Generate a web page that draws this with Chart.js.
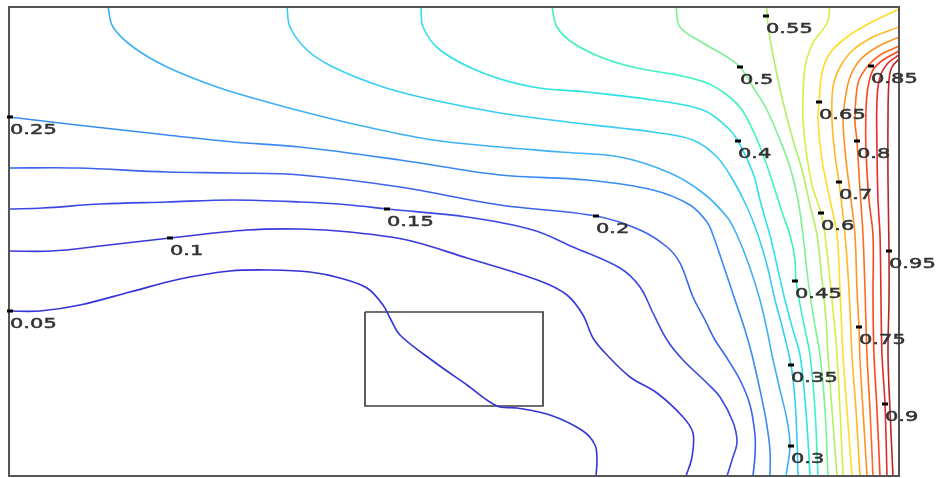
<!DOCTYPE html>
<html><head><meta charset="utf-8">
<script src="https://cdn.jsdelivr.net/npm/chart.js@4/dist/chart.umd.min.js"></script>
<style>html,body{margin:0;padding:0;background:#fff}#wrap{width:939px;height:478px}</style>
</head><body><div id="wrap"><canvas id="c" width="939" height="478"></canvas></div>
<script>
// contour levels and their colours
const levels = [0.05,0.1,0.15,0.2,0.25,0.3,0.35,0.4,0.45,0.5,0.55,0.6,0.65,0.7,0.75,0.8,0.85,0.9,0.95];
const levelColors = ['#3434d6','#3838dc','#3a48e4','#3c62ee','#3a8af4','#3eb0f6','#36cef4','#2ee2e6','#3ef2c4','#7cf292','#aef262','#d6f03e','#ffdc28','#ffb820','#ff9420','#ff6a20','#ff4420','#e62a2a','#b82626'];

// contour paths [x, depth]
const c05 = [[0,30.4],[3.1,30.4],[7.1,29.8],[12.1,28.5],[17.1,27.2],[22.1,26.4],[26.1,26.3],[30.1,26.5],[33.1,27.1],[35.8,28.1],[37.4,29.8],[38.1,31.1],[39.1,32.8],[42.4,35.4],[45.8,37.8],[48.8,39.9],[50.8,40.1],[54.1,40.8],[57.4,42.4],[58.6,43.8],[58.8,45.3],[58.7,46.9]];
const c10 = [[0,24.4],[4.3,24.4],[9.1,23.9],[16.1,23.1],[23.8,22.3],[29.1,22.2],[34.1,22.5],[39.8,23.3],[45.8,25.1],[53.1,27.4],[55.8,28.8],[57.4,30.8],[58.4,33.1],[59.8,34.8],[62.1,37.0],[64.8,38.6],[67.4,41.0],[68.4,42.6],[68.3,45.0],[67.7,46.9]];
const c15 = [[0,20.2],[3.4,20.1],[9.1,19.7],[15.8,19.5],[22.4,19.3],[29.1,19.5],[34.1,19.8],[37.8,20.2],[45.8,21.0],[52.4,22.3],[56.4,24.0],[61.1,26.1],[63.1,28.0],[64.4,30.6],[65.8,33.3],[67.4,35.3],[69.8,37.6],[71.1,39.0],[72.4,41.5],[72.8,43.5],[72.4,45.0],[71.8,46.9]];
const c20 = [[0,16.1],[6.8,16.1],[15.8,16.5],[22.4,16.6],[29.1,16.8],[39.1,18.0],[49.1,19.8],[58.7,20.9],[63.1,22.3],[65.8,24.0],[67.1,25.6],[68.4,29.0],[69.6,31.3],[70.6,33.3],[71.6,34.8],[73.1,37.3],[74.1,39.8],[74.6,42.8],[74.6,44.8],[74.4,46.9]];
const c25 = [[0,11.0],[6.8,11.8],[15.8,12.8],[22.4,13.5],[29.1,14.0],[39.1,15.3],[49.1,16.8],[57.8,17.3],[64.4,18.3],[68.1,19.8],[69.8,21.5],[70.4,22.8],[71.6,26.3],[72.6,29.3],[73.6,32.3],[74.3,34.8],[75.1,38.3],[75.7,41.3],[76.1,44.3],[76.1,46.9]];
const c30 = [[9.9,0],[10.4,2.0],[12.4,4.0],[15.8,6.0],[20.8,8.0],[25.8,9.5],[31.1,10.9],[35.8,12.0],[42.4,13.3],[49.1,14.0],[55.1,14.5],[61.1,15.0],[66.1,16.6],[69.4,18.6],[71.8,21.0],[72.8,22.8],[74.1,26.1],[75.1,29.3],[75.8,32.3],[76.3,34.8],[77.1,38.3],[77.8,41.3],[78.1,43.9],[77.7,46.9]];
const c35 = [[27.8,0],[28.1,2.0],[29.8,4.3],[32.4,6.0],[37.4,8.0],[42.4,9.3],[49.1,10.6],[55.8,11.5],[61.1,12.1],[64.4,12.5],[68.4,13.3],[70.8,15.0],[72.4,17.3],[73.8,20.0],[74.9,22.8],[75.8,25.8],[76.6,29.3],[77.4,32.3],[78.2,35.8],[78.6,39.3],[78.8,43.3],[78.9,46.9]];
const c40 = [[41.2,0],[41.4,2.0],[43.1,4.3],[47.4,6.6],[52.4,8.0],[57.8,8.5],[64.4,9.3],[69.4,10.3],[71.8,12.0],[72.9,13.4],[74.4,16.6],[75.1,19.3],[75.8,21.8],[76.1,22.8],[76.9,26.3],[77.6,29.3],[78.4,32.3],[79.1,34.8],[79.6,39.3],[79.9,43.3],[80.1,46.9]];
const c45 = [[54.3,0],[54.8,2.0],[56.4,3.6],[59.4,5.1],[62.8,6.1],[66.8,6.8],[69.8,7.6],[71.8,8.8],[73.3,10.3],[74.6,12.8],[75.6,15.3],[76.6,18.3],[77.4,20.8],[78.1,22.8],[78.6,25.3],[78.7,27.4],[79.4,31.3],[80.1,34.8],[80.6,40.3],[80.9,46.9]];
const c50 = [[66.7,0],[67.1,2.0],[69.4,3.6],[71.8,5.0],[73.1,6.0],[74.4,8.0],[75.8,10.3],[77.1,13.3],[78.1,16.0],[78.9,19.3],[79.4,22.8],[79.9,27.3],[80.5,31.3],[81.1,34.8],[81.6,40.3],[81.9,46.9]];
const c55 = [[75.8,0],[75.9,1.8],[76.3,4.3],[76.9,7.3],[77.6,10.3],[78.4,13.3],[79.3,16.3],[80.1,19.8],[80.8,22.8],[81.3,27.3],[81.7,31.3],[81.9,34.8],[82.3,40.3],[82.8,46.9]];
const c60 = [[82.1,0],[81.8,1.6],[80.4,3.6],[79.6,6.0],[79.4,9.3],[79.4,11.3],[79.7,14.3],[80.3,17.8],[81.2,20.6],[81.6,22.8],[82.1,27.3],[82.5,31.3],[82.8,34.8],[83.1,40.3],[83.4,46.9]];
const c65 = [[89.0,0.2],[86.1,1.6],[83.8,3.0],[82.1,4.6],[81.3,6.6],[81.0,9.5],[80.9,11.3],[81.3,15.3],[82.1,19.3],[82.8,22.8],[83.1,28.3],[83.4,34.8],[83.8,40.3],[84.3,46.9]];
const c70 = [[89.0,2.0],[86.4,3.0],[84.4,4.3],[83.1,6.0],[82.4,8.0],[82.3,11.3],[82.6,14.8],[83.0,17.5],[83.6,22.8],[84.0,28.3],[84.3,34.8],[84.7,40.3],[85.1,46.9]];
const c75 = [[89.0,3.0],[86.8,4.0],[85.1,5.3],[84.1,7.0],[83.6,9.3],[83.4,11.3],[83.7,15.3],[84.2,19.3],[84.6,22.8],[84.8,28.3],[85.0,32.0],[85.1,35.3],[85.4,40.3],[85.8,46.9]];
const c80 = [[89.0,3.9],[87.1,4.8],[85.8,6.0],[84.9,7.6],[84.6,11.3],[84.8,13.4],[85.1,18.3],[85.4,22.8],[85.6,28.3],[85.8,34.8],[86.1,40.3],[86.4,46.9]];
const c85 = [[89.0,4.4],[87.4,5.3],[86.4,6.3],[85.9,8.0],[85.7,10.3],[85.7,14.3],[86.0,19.3],[86.4,22.8],[86.4,29.3],[86.5,34.8],[86.8,40.3],[87.1,46.9]];
const c90 = [[89.0,4.8],[87.9,5.6],[87.1,7.0],[86.8,9.3],[86.8,14.3],[86.9,19.3],[87.1,22.8],[87.2,29.3],[87.3,34.8],[87.6,39.7],[87.8,46.9]];
const c95 = [[89.0,5.2],[88.3,6.0],[88.0,7.3],[87.9,11.3],[87.9,17.3],[88.0,24.4],[88.0,29.3],[87.9,34.8],[88.1,40.3],[88.4,46.9]];

// contour label anchors
const labelText = ['0.05','0.1','0.15','0.2','0.25','0.3','0.35','0.4','0.45','0.5','0.55','0.6','0.65','0.7','0.75','0.8','0.85','0.9','0.95'];
const labelX = [0.1,16.1,37.8,58.7,0.1,78.2,78.2,72.9,78.6,73.1,75.7,81.2,81.0,83.0,85.0,84.8,86.2,87.6,88.0];
const labelY = [30.4,23.1,20.2,20.9,11.0,43.9,35.8,13.4,27.4,6.0,0.9,20.6,9.5,17.5,32.0,13.4,5.9,39.7,24.4];

// rectangle (structure outline)
const boxX = [35.6,53.4,53.4,35.6,35.6];
const boxY = [30.5,30.5,39.9,39.9,30.5];

const xMin = 0, xMax = 89, yMin = 0, yMax = 46.9;

const contours = [c05,c10,c15,c20,c25,c30,c35,c40,c45,c50,c55,c60,c65,c70,c75,c80,c85,c90,c95];

const datasets = contours.map((pts,i)=>({
  label: String(levels[i]),
  data: pts.map(p=>({x:p[0],y:p[1]})),
  showLine: true,
  borderColor: levelColors[i],
  borderWidth: 1.6,
  pointRadius: 0,
  tension: 0.35,
  fill: false
}));
datasets.push({
  label: 'box',
  data: boxX.map((x,i)=>({x:x,y:boxY[i]})),
  showLine: true, borderColor: '#404040', borderWidth: 1.7, pointRadius: 0, tension: 0, fill:false
});
datasets.push({
  label: 'labels',
  data: labelX.map((x,i)=>({x:x,y:labelY[i]})),
  showLine: false, pointRadius: 0, borderWidth: 0, clip: false
});
const LABEL_DS = datasets.length - 1;

const framePlugin = {
  id: 'frame',
  afterDatasetsDraw(chart) {
    const {ctx, chartArea: a} = chart;
    ctx.save();
    ctx.strokeStyle = '#555';
    ctx.lineWidth = 2;
    ctx.strokeRect(a.left, a.top, a.right - a.left, a.bottom - a.top);
    const meta = chart.getDatasetMeta(LABEL_DS);
    ctx.fillStyle = '#333';
    ctx.strokeStyle = '#333';
    ctx.lineWidth = 0.5;
    ctx.font = '14px "DejaVu Sans", Verdana, sans-serif';
    ctx.textBaseline = 'alphabetic';
    meta.data.forEach((el, i) => {
      ctx.save();
      ctx.translate(el.x, el.y + 17);
      ctx.scale(1.5, 1);
      ctx.fillText(labelText[i], 0, 0);
      ctx.strokeText(labelText[i], 0, 0);
      ctx.restore();
    });
    ctx.fillStyle = '#000';
    meta.data.forEach(el => { ctx.fillRect(el.x - 3, el.y - 1.5, 6, 3); });
    ctx.restore();
  }
};

new Chart(document.getElementById('c'), {
  type: 'scatter',
  data: { datasets },
  options: {
    responsive: false,
    animation: false,
    devicePixelRatio: 1,
    layout: { autoPadding: false, padding: { left: 9, top: 7, right: 40, bottom: 2 } },
    plugins: { legend: { display: false }, tooltip: { enabled: false } },
    scales: {
      x: { type: 'linear', min: xMin, max: xMax, display: false },
      y: { type: 'linear', min: yMin, max: yMax, reverse: true, display: false }
    }
  },
  plugins: [framePlugin]
});
</script>
</body></html>
